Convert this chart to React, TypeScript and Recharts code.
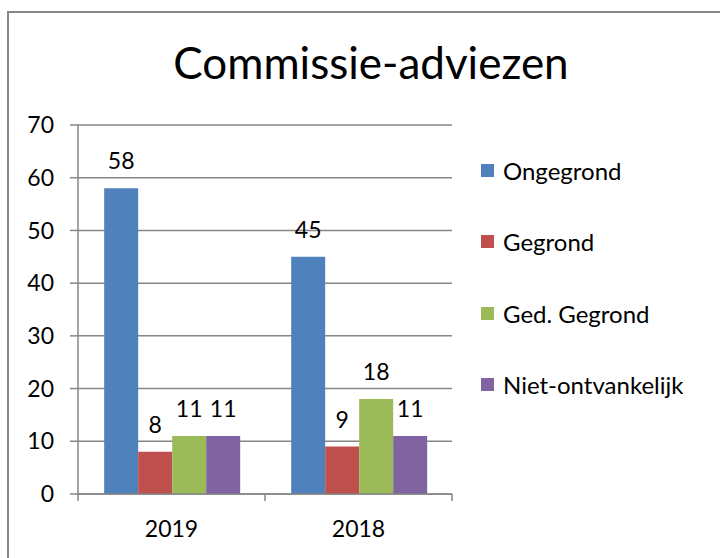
import { Bar, BarChart, CartesianGrid, LabelList, XAxis, YAxis } from 'recharts'

const categories = ['2019', '2018']
const ongegrond = [58, 45]
const gegrond = [8, 9]
const gedGegrond = [11, 18]
const nietOntvankelijk = [11, 11]
const yTicks = [0, 10, 20, 30, 40, 50, 60, 70]

const series = [
  { key: 'ongegrond', name: 'Ongegrond', color: '#4F81BD' },
  { key: 'gegrond', name: 'Gegrond', color: '#C0504D' },
  { key: 'gedGegrond', name: 'Ged. Gegrond', color: '#9BBB59' },
  { key: 'nietOntvankelijk', name: 'Niet-ontvankelijk', color: '#8064A2' },
]

const data = categories.map((year, i) => ({
  year,
  ongegrond: ongegrond[i],
  gegrond: gegrond[i],
  gedGegrond: gedGegrond[i],
  nietOntvankelijk: nietOntvankelijk[i],
}))

const FONT = 'Lato, "Open Sans", sans-serif'
const AXIS = '#868686'

// ticks sit on the category borders, not the centres
function YearTick(props: any) {
  const { x, y, payload, index, visibleTicksCount } = props
  const half = payload.offset ?? 0
  const last = index === visibleTicksCount - 1
  return (
    <g>
      <line x1={x - half} x2={x - half} y1={y - 8} y2={y - 1} stroke={AXIS} strokeWidth={1.5} />
      {last && <line x1={x + half} x2={x + half} y1={y - 8} y2={y - 1} stroke={AXIS} strokeWidth={1.5} />}
      <text x={x} y={y + 35} textAnchor="middle" fontSize={23} fontFamily={FONT} fill="#000">
        {payload.value}
      </text>
    </g>
  )
}

function LegendList() {
  return (
    <div
      style={{
        position: 'absolute',
        left: 481,
        top: 156,
        fontFamily: FONT,
        fontSize: 24,
        color: '#000',
      }}
    >
      {series.map((s) => (
        <div key={s.key} style={{ display: 'flex', alignItems: 'center', height: 28, marginBottom: 43.5, whiteSpace: 'nowrap' }}>
          <span style={{ width: 13, height: 13, background: s.color, marginRight: 9, display: 'inline-block' }} />
          <span>{s.name}</span>
        </div>
      ))}
    </div>
  )
}

export default function App() {
  return (
    <div style={{ position: 'absolute', left: 0, top: 0, width: 720, height: 558, overflow: 'hidden', background: '#fff' }}>
      <div
        style={{
          position: 'absolute',
          left: 7,
          top: 11,
          width: 760,
          height: 600,
          border: `2px solid ${AXIS}`,
        }}
      />
      <svg style={{ position: 'absolute', left: 0, top: 0 }} width={720} height={100}>
        <text x={371} y={79} textAnchor="middle" fontFamily={FONT} fontSize={44} fill="#000">
          Commissie-adviezen
        </text>
      </svg>
      <div style={{ position: 'absolute', left: 0, top: 0 }}>
        <BarChart
          width={720}
          height={558}
          data={data}
          margin={{ top: 125, right: 268, bottom: 34, left: 18 }}
          barCategoryGap="14%"
          barGap={0}
        >
          <CartesianGrid vertical={false} stroke={AXIS} strokeWidth={1.5} />
          <XAxis
            dataKey="year"
            axisLine={{ stroke: AXIS, strokeWidth: 1.5 }}
            tickLine={false}
            height={30}
            tick={<YearTick />}
            interval={0}
          />
          <YAxis
            width={60}
            domain={[0, 70]}
            ticks={yTicks}
            interval={0}
            axisLine={{ stroke: AXIS, strokeWidth: 1.5 }}
            tickLine={{ stroke: AXIS, strokeWidth: 1.5 }}
            tickSize={8}
            tickMargin={16}
            tick={{ fill: '#000', fontSize: 23, fontFamily: FONT }}
          />
          {series.map((s) => (
            <Bar key={s.key} dataKey={s.key} name={s.name} fill={s.color} isAnimationActive={false}>
              <LabelList dataKey={s.key} position="top" offset={19} fill="#000" fontSize={23} fontFamily={FONT} />
            </Bar>
          ))}
        </BarChart>
      </div>
      <LegendList />
    </div>
  )
}
